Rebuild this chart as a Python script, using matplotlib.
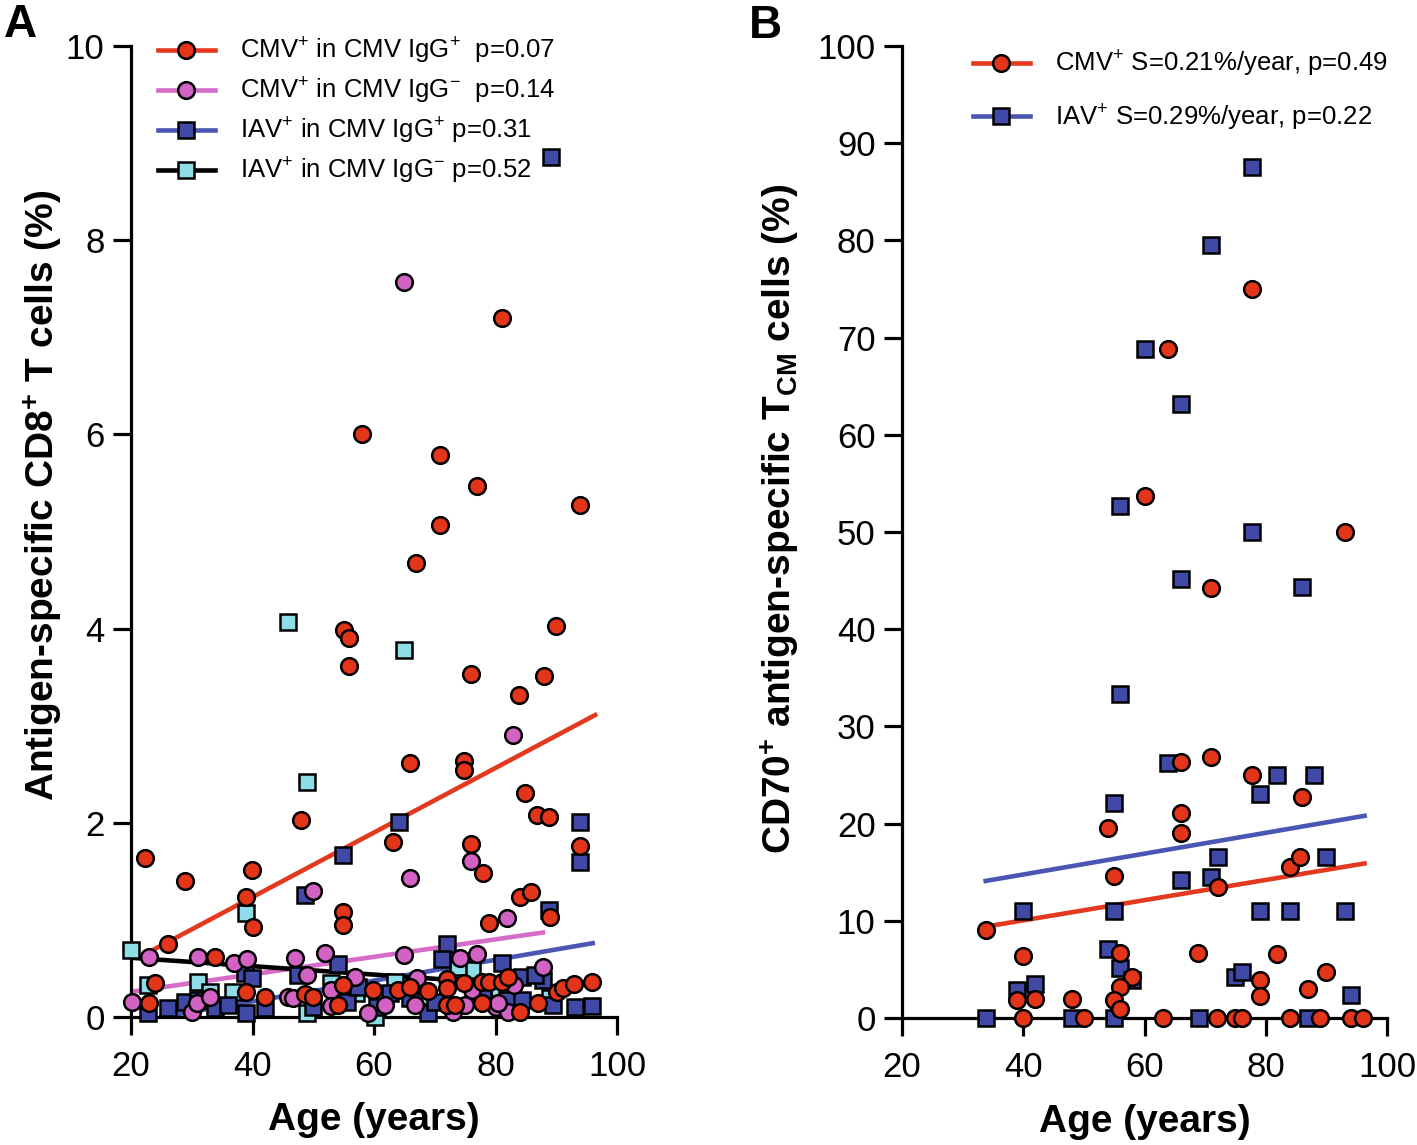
import numpy as np
import matplotlib
matplotlib.use('Agg')
import matplotlib.pyplot as plt
from matplotlib.lines import Line2D

plt.rcParams['font.family'] = ['Liberation Sans', 'DejaVu Sans']
plt.rcParams['mathtext.fontset'] = 'custom'
plt.rcParams['mathtext.rm'] = 'Liberation Sans'
plt.rcParams['mathtext.bf'] = 'Liberation Sans:bold'
plt.rcParams['mathtext.default'] = 'rm'

# ---- panel A data: age (years), % antigen-specific CD8+ T cells ----
cmv_pos_age = [81.1, 58.0, 70.9, 70.9, 77.0, 93.9, 66.9, 90.0, 55.1, 55.9, 55.9, 76.0, 88.0, 83.9,
               74.8, 74.8, 65.9, 84.9, 86.8, 88.8, 48.0, 63.1, 76.0, 77.9, 93.9, 39.9, 22.3, 28.9,
               38.9, 40.1, 54.9, 54.9, 84.0, 85.9, 78.9, 89.0, 26.1,
               33.8, 24.0, 23.0, 38.9, 42.1, 48.6, 50.0, 54.9, 54.1, 59.8, 63.9, 65.9, 68.9, 72.0,
               72.0, 74.8, 77.8, 72.0, 73.3, 77.8, 79.0, 81.0, 82.0, 90.1, 91.1, 92.9, 95.9, 84.0, 87.0]
cmv_pos_val = [7.20, 6.00, 5.79, 5.07, 5.47, 5.27, 4.68, 4.03, 3.99, 3.90, 3.61, 3.53, 3.51, 3.32,
               2.64, 2.54, 2.62, 2.31, 2.08, 2.06, 2.03, 1.80, 1.78, 1.48, 1.76, 1.51, 1.64, 1.40,
               1.24, 0.93, 1.08, 0.95, 1.24, 1.29, 0.97, 1.03, 0.75,
               0.62, 0.35, 0.14, 0.26, 0.21, 0.24, 0.21, 0.33, 0.12, 0.28, 0.28, 0.31, 0.27, 0.39,
               0.30, 0.35, 0.36, 0.12, 0.12, 0.14, 0.36, 0.36, 0.41, 0.26, 0.30, 0.34, 0.36, 0.05, 0.14]

cmv_neg_age = [64.9, 82.9, 76.0, 65.9, 50.0, 81.9,
               23.0, 31.0, 37.0, 39.1, 47.0, 52.0, 49.0, 56.9, 20.2, 30.0, 30.9, 33.0, 45.8, 46.7,
               52.9, 52.9, 65.0, 74.2, 77.0, 67.1, 76.1, 61.8, 59.0, 66.7, 73.0, 75.0, 87.8, 83.1,
               80.0, 82.0, 80.4]
cmv_neg_val = [7.57, 2.90, 1.61, 1.43, 1.30, 1.02,
               0.62, 0.62, 0.56, 0.60, 0.61, 0.66, 0.43, 0.41, 0.15, 0.05, 0.14, 0.21, 0.21, 0.20,
               0.28, 0.11, 0.64, 0.61, 0.65, 0.40, 0.28, 0.12, 0.04, 0.12, 0.05, 0.12, 0.52, 0.33,
               0.10, 0.05, 0.14]

iav_pos_age = [89.2, 64.1, 54.9, 93.9, 93.9, 88.8, 48.6,
               22.8, 26.1, 28.9, 33.8, 38.9, 38.8, 39.9, 42.1, 47.5, 54.0, 50.0, 55.6, 57.4, 72.0,
               71.2, 68.9, 62.6, 81.1, 87.8, 84.4, 86.5, 93.1, 95.9, 89.5, 81.9, 84.4, 60.5, 66.0,
               70.0, 78.0, 31.0, 36.0]
iav_pos_val = [8.86, 2.01, 1.67, 2.01, 1.60, 1.10, 1.26,
               0.04, 0.09, 0.15, 0.09, 0.04, 0.45, 0.40, 0.09, 0.43, 0.55, 0.10, 0.15, 0.31, 0.75,
               0.60, 0.04, 0.25, 0.56, 0.38, 0.41, 0.43, 0.10, 0.11, 0.12, 0.17, 0.17, 0.10, 0.20,
               0.15, 0.25, 0.18, 0.12]

iav_neg_age = [45.8, 64.9, 49.0, 38.9, 20.0, 22.8, 31.0, 33.0, 36.8, 49.0, 53.0, 60.1, 74.5, 76.1,
               63.5, 73.8, 57.0, 67.5, 80.5, 89.0]
iav_neg_val = [4.07, 3.78, 2.42, 1.07, 0.69, 0.33, 0.36, 0.26, 0.26, 0.04, 0.35, 0.00, 0.48, 0.48,
               0.36, 0.51, 0.25, 0.22, 0.30, 0.20]

# fitted regression lines (end points)
fit_cmv_pos_age = [23.0, 96.4]
fit_cmv_pos_val = [0.67, 3.11]
fit_cmv_neg_age = [20.0, 87.8]
fit_cmv_neg_val = [0.26, 0.87]
fit_iav_pos_age = [25.0, 96.0]
fit_iav_pos_val = [0.0, 0.76]
fit_iav_neg_age = [20.0, 80.0]
fit_iav_neg_val = [0.61, 0.35]

labels_a = ['CMV$^{+}$ in CMV IgG$^{+}$  p=0.07',
            'CMV$^{+}$ in CMV IgG$^{-}$  p=0.14',
            'IAV$^{+}$ in CMV IgG$^{+}$ p=0.31',
            'IAV$^{+}$ in CMV IgG$^{-}$ p=0.52']

# ---- panel B data: age, % CD70+ antigen-specific TCM ----
b_cmv_age = [77.8, 63.8, 60.0, 70.9, 93.0, 70.9, 66.0, 77.8, 85.9, 66.0, 66.0, 53.9, 84.0, 85.7,
             72.1, 54.9, 33.8, 39.9, 68.9, 81.9, 90.0, 79.0, 79.0, 87.0, 55.9, 58.0, 55.9, 54.9,
             55.9, 39.0, 41.9, 48.0,
             40.0, 50.0, 63.0, 72.0, 75.0, 76.0, 84.0, 89.0, 94.0, 96.0]
b_cmv_val = [75.0, 68.8, 53.7, 44.2, 50.0, 26.9, 26.3, 25.0, 22.7, 21.1, 19.0, 19.5, 15.5, 16.6,
             13.5, 14.6, 9.1, 6.4, 6.7, 6.6, 4.7, 3.9, 2.3, 3.0, 6.7, 4.2, 3.2, 1.9,
             0.9, 1.9, 2.0, 2.0,
             0, 0, 0, 0, 0, 0, 0, 0, 0, 0]

b_iav_age = [77.8, 70.9, 60.0, 66.0, 55.9, 77.8, 66.0, 85.9, 55.9, 63.8, 81.9, 88.0, 79.0, 54.9,
             90.0, 72.1, 66.0, 70.9, 39.9, 54.9, 79.0, 84.0, 93.0, 53.9, 55.9, 58.0, 75.0, 76.0,
             94.1, 39.0, 41.9,
             33.8, 48.0, 55.0, 69.0, 87.0]
b_iav_val = [87.6, 79.5, 68.8, 63.2, 52.7, 50.0, 45.2, 44.3, 33.3, 26.2, 25.0, 25.0, 23.0, 22.1,
             16.6, 16.6, 14.2, 14.5, 11.0, 11.0, 11.0, 11.0, 11.0, 7.1, 5.1, 3.9, 4.2, 4.7,
             2.4, 2.9, 3.5,
             0, 0, 0, 0, 0]

fit_b_cmv_age = [33.8, 96.3]
fit_b_cmv_val = [9.4, 15.9]
fit_b_iav_age = [33.8, 96.3]
fit_b_iav_val = [14.1, 20.8]

labels_b = ['CMV$^{+}$ S=0.21%/year, p=0.49',
            'IAV$^{+}$ S=0.29%/year, p=0.22']

RED = '#E2351A'
PINK = '#D263C4'
BLUE = '#4049A6'
CYAN = '#8FDDE6'
RED_L = '#E4391E'
PINK_L = '#D66BC9'
BLUE_L = '#4B55B3'

W, H = 1417, 1145
fig = plt.figure(figsize=(W / 100, H / 100), dpi=100)


def box(l, t, r, b):
    return [l / W, 1 - b / H, (r - l) / W, (b - t) / H]


def prism(ax):
    for s in ['top', 'right']:
        ax.spines[s].set_visible(False)
    for s in ['left', 'bottom']:
        ax.spines[s].set_linewidth(2.3)
    ax.tick_params(direction='out', length=13, width=2.3, labelsize=25, pad=6)
    ax.tick_params(axis='x', pad=11)


MS = 12
MEW = 1.8


def pts(ax, x, y, marker, fc, z):
    ax.plot(x, y, ls='none', marker=marker, ms=MS, mfc=fc, mec='black', mew=MEW,
            clip_on=False, zorder=z)


# ---------------- panel A ----------------
axA = fig.add_axes(box(131, 46, 617, 1017))
prism(axA)
axA.set_xlim(20, 100)
axA.set_ylim(0, 10)
axA.set_xticks([20, 40, 60, 80, 100])
axA.set_yticks([0, 2, 4, 6, 8, 10])

axA.plot(fit_cmv_pos_age, fit_cmv_pos_val, color=RED_L, lw=3.3, zorder=2)
axA.plot(fit_cmv_neg_age, fit_cmv_neg_val, color=PINK_L, lw=3.3, zorder=2)
axA.plot(fit_iav_pos_age, fit_iav_pos_val, color=BLUE_L, lw=3.3, zorder=2)
axA.plot(fit_iav_neg_age, fit_iav_neg_val, color='black', lw=3.3, zorder=2)

pts(axA, iav_neg_age, iav_neg_val, 's', CYAN, 3)
pts(axA, iav_pos_age, iav_pos_val, 's', BLUE, 4)
pts(axA, cmv_neg_age, cmv_neg_val, 'o', PINK, 5)
pts(axA, cmv_pos_age, cmv_pos_val, 'o', RED, 6)

hA = [Line2D([], [], color=RED_L, lw=3.3, marker='o', ms=MS, mfc=RED, mec='black', mew=MEW),
      Line2D([], [], color=PINK_L, lw=3.3, marker='o', ms=MS, mfc=PINK, mec='black', mew=MEW),
      Line2D([], [], color=BLUE_L, lw=3.3, marker='s', ms=MS, mfc=BLUE, mec='black', mew=MEW),
      Line2D([], [], color='black', lw=3.3, marker='s', ms=MS, mfc=CYAN, mec='black', mew=MEW)]
axA.legend(hA, labels_a, loc='upper left', bbox_to_anchor=(158 / W, 1 - 36 / H),
           bbox_transform=fig.transFigure, frameon=False, fontsize=18.5,
           handlelength=2.2, handletextpad=1.0, labelspacing=0.38, borderpad=0,
           borderaxespad=0)

fig.text(43 / W, 1 - 495 / H, r'Antigen-specific CD8$^{\mathbf{+}}$ T cells (%)',
         rotation=90, ha='center', va='center', fontsize=28, fontweight='bold')
fig.text(374 / W, 1 - 1120 / H, 'Age (years)', ha='center', va='center',
         fontsize=28, fontweight='bold')
fig.text(20 / W, 1 - 37 / H, 'A', ha='center', va='baseline', fontsize=33, fontweight='bold')

# ---------------- panel B ----------------
axB = fig.add_axes(box(902, 46, 1387, 1018))
prism(axB)
axB.set_xlim(20, 100)
axB.set_ylim(0, 100)
axB.set_xticks([20, 40, 60, 80, 100])
axB.set_yticks(np.arange(0, 101, 10))

axB.plot(fit_b_iav_age, fit_b_iav_val, color=BLUE_L, lw=3.3, zorder=2)
axB.plot(fit_b_cmv_age, fit_b_cmv_val, color=RED_L, lw=3.3, zorder=2)
pts(axB, b_iav_age, b_iav_val, 's', BLUE, 4)
pts(axB, b_cmv_age, b_cmv_val, 'o', RED, 5)

hB = [Line2D([], [], color=RED_L, lw=3.3, marker='o', ms=MS, mfc=RED, mec='black', mew=MEW),
      Line2D([], [], color=BLUE_L, lw=3.3, marker='s', ms=MS, mfc=BLUE, mec='black', mew=MEW)]
axB.legend(hB, labels_b, loc='upper left', bbox_to_anchor=(973 / W, 1 - 49 / H),
           bbox_transform=fig.transFigure, frameon=False, fontsize=18.5,
           handlelength=2.2, handletextpad=1.0, labelspacing=0.9, borderpad=0,
           borderaxespad=0)

fig.text(780 / W, 1 - 519 / H,
         r'CD70$^{\mathbf{+}}$ antigen-specific T$_{\mathbf{CM}}$ cells (%)',
         rotation=90, ha='center', va='center', fontsize=28, fontweight='bold')
fig.text(1145 / W, 1 - 1122 / H, 'Age (years)', ha='center', va='center',
         fontsize=28, fontweight='bold')
fig.text(765 / W, 1 - 38 / H, 'B', ha='center', va='baseline', fontsize=33, fontweight='bold')

fig.savefig('out.png', dpi=100)
